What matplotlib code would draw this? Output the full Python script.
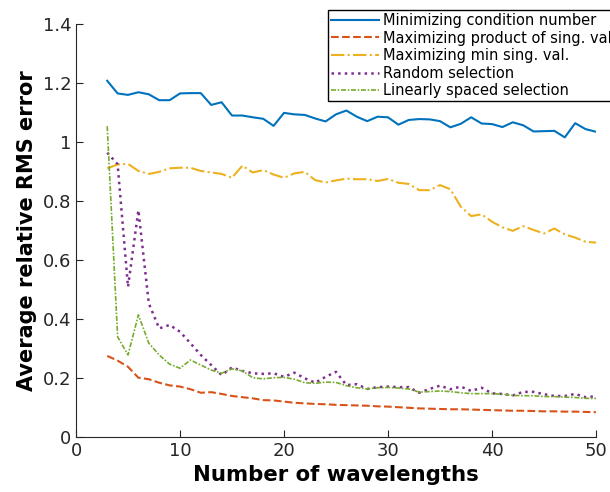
import numpy as np
import matplotlib
matplotlib.use('Agg')
import matplotlib.pyplot as plt

n_wavelengths = list(range(3, 51))

min_cond = [1.208, 1.165, 1.160, 1.169, 1.162, 1.142, 1.142, 1.165, 1.166, 1.166,
            1.126, 1.135, 1.090, 1.090, 1.084, 1.079, 1.055, 1.099, 1.094, 1.092,
            1.080, 1.070, 1.094, 1.107, 1.086, 1.071, 1.086, 1.084, 1.059, 1.075,
            1.078, 1.077, 1.071, 1.050, 1.062, 1.084, 1.063, 1.061, 1.051, 1.067,
            1.057, 1.036, 1.037, 1.038, 1.016, 1.064, 1.044, 1.035]

max_prod = [0.275, 0.259, 0.238, 0.201, 0.196, 0.184, 0.175, 0.171, 0.162, 0.150,
            0.152, 0.146, 0.139, 0.135, 0.131, 0.125, 0.124, 0.120, 0.116, 0.114,
            0.112, 0.111, 0.109, 0.108, 0.107, 0.106, 0.104, 0.103, 0.101, 0.099,
            0.097, 0.096, 0.095, 0.094, 0.094, 0.093, 0.092, 0.091, 0.090, 0.089,
            0.089, 0.088, 0.087, 0.087, 0.086, 0.086, 0.085, 0.084]

max_min_sv = [0.911, 0.924, 0.926, 0.902, 0.892, 0.899, 0.911, 0.913, 0.913, 0.902,
              0.897, 0.892, 0.879, 0.920, 0.897, 0.905, 0.890, 0.879, 0.894, 0.899,
              0.871, 0.863, 0.870, 0.876, 0.874, 0.874, 0.868, 0.875, 0.862, 0.858,
              0.837, 0.837, 0.854, 0.840, 0.781, 0.749, 0.755, 0.730, 0.711, 0.699,
              0.715, 0.702, 0.690, 0.707, 0.687, 0.676, 0.662, 0.659]

random_sel = [0.964, 0.925, 0.509, 0.769, 0.453, 0.368, 0.380, 0.357, 0.318, 0.278,
              0.244, 0.210, 0.236, 0.224, 0.216, 0.214, 0.216, 0.204, 0.218, 0.199,
              0.184, 0.204, 0.221, 0.176, 0.179, 0.163, 0.169, 0.171, 0.169, 0.169,
              0.150, 0.163, 0.174, 0.162, 0.171, 0.156, 0.167, 0.148, 0.146, 0.141,
              0.153, 0.153, 0.145, 0.139, 0.139, 0.146, 0.135, 0.138]

linear_sel = [1.054, 0.340, 0.278, 0.414, 0.318, 0.278, 0.247, 0.233, 0.261, 0.244,
              0.227, 0.216, 0.231, 0.224, 0.201, 0.197, 0.201, 0.202, 0.196, 0.184,
              0.182, 0.186, 0.185, 0.174, 0.167, 0.163, 0.167, 0.168, 0.166, 0.163,
              0.152, 0.154, 0.156, 0.154, 0.150, 0.147, 0.147, 0.147, 0.145, 0.141,
              0.140, 0.140, 0.137, 0.137, 0.135, 0.134, 0.131, 0.131]

labels = ['Minimizing condition number', 'Maximizing product of sing. val.',
          'Maximizing min sing. val.', 'Random selection', 'Linearly spaced selection']

fig = plt.figure(figsize=(6.1, 4.92), dpi=100)
ax = fig.add_axes([0.1246, 0.1118, 0.977 - 0.1246, 0.951 - 0.1118])

ax.plot(n_wavelengths, min_cond, '-', color='#0072BD', lw=1.5, label=labels[0])
ax.plot(n_wavelengths, max_prod, '--', color='#D95319', lw=1.5, label=labels[1])
ax.plot(n_wavelengths, max_min_sv, '-.', color='#EDB120', lw=1.5, label=labels[2])
ax.plot(n_wavelengths, random_sel, ':', color='#7E2F8E', lw=1.8, label=labels[3])
ax.plot(n_wavelengths, linear_sel, '-.', color='#77AC30', lw=1.2,
        dashes=(3, 1, 1, 1), label=labels[4])

ax.set_xlim(0, 50)
ax.set_ylim(0, 1.4)
ax.set_xticks([0, 10, 20, 30, 40, 50])
ax.set_yticks([0, 0.2, 0.4, 0.6, 0.8, 1.0, 1.2, 1.4])
ax.set_yticklabels(['0', '0.2', '0.4', '0.6', '0.8', '1', '1.2', '1.4'])
ax.tick_params(direction='in', labelsize=13, length=5, color='#262626',
               labelcolor='#262626')
ax.spines['top'].set_visible(False)
ax.spines['right'].set_visible(False)
for s in ['left', 'bottom']:
    ax.spines[s].set_color('#262626')
ax.set_xlabel('Number of wavelengths', fontsize=15.3, fontweight='bold')
ax.set_ylabel('Average relative RMS error', fontsize=15, fontweight='bold')

leg = ax.legend(loc='upper left', bbox_to_anchor=(328 / 610, 1 - 10 / 492),
                bbox_transform=fig.transFigure, fontsize=10.5, handlelength=3.3,
                handletextpad=0.3, borderpad=0.2, labelspacing=0.18,
                borderaxespad=0, fancybox=False, framealpha=1, edgecolor='black')
leg.get_frame().set_linewidth(1.0)

fig.savefig('out.png', dpi=100)
